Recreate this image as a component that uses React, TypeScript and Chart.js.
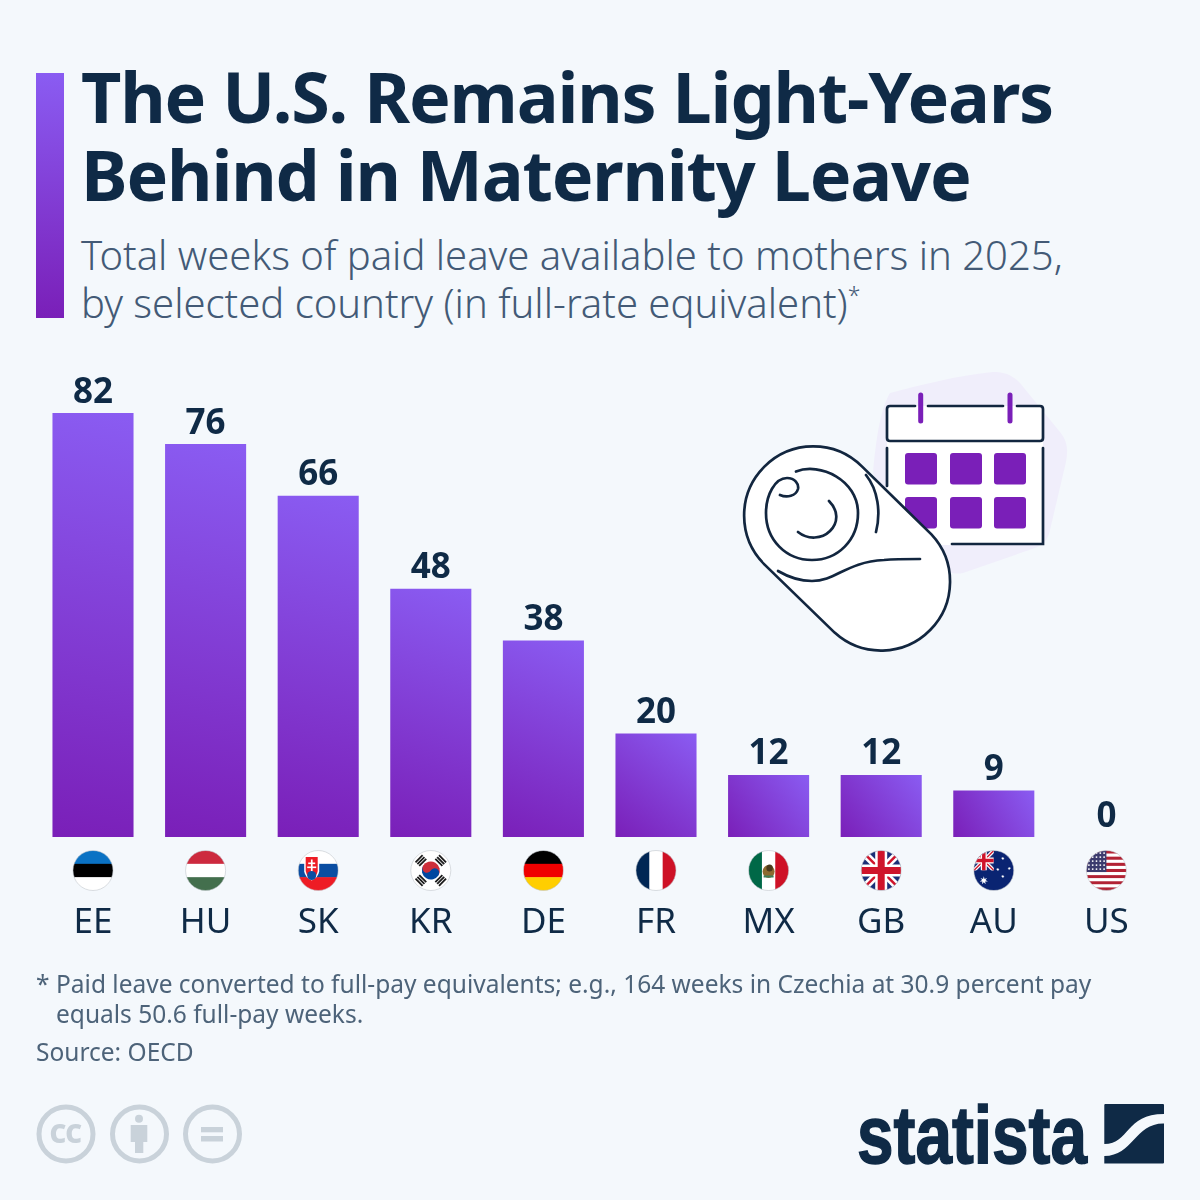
import React, { useEffect, useRef } from 'react';
import { Chart, registerables } from 'chart.js';

Chart.register(...registerables);

const countries = ['EE', 'HU', 'SK', 'KR', 'DE', 'FR', 'MX', 'GB', 'AU', 'US'];
const weeks = [82, 76, 66, 48, 38, 20, 12, 12, 9, 0];

const titleLines = ['The U.S. Remains Light-Years', 'Behind in Maternity Leave'];
const subtitleLines = ['Total weeks of paid leave available to mothers in 2025,', 'by selected country (in full-rate equivalent)'];
const noteLines = ['Paid leave converted to full-pay equivalents; e.g., 164 weeks in Czechia at 30.9 percent pay', 'equals 50.6 full-pay weeks.'];
const sourceText = 'Source: OECD';

const NAVY = '#0f2a46';
const FONT = '"Noto Sans", "Open Sans", sans-serif';
const PURPLE_TOP = '#8a5cf2';
const PURPLE_BOTTOM = '#7a1fb8';
const FLAG_R = 20;
const FLAG_Y = 870.5;

type Ctx = CanvasRenderingContext2D;

function bands(c: Ctx, x: number, y: number, cols: string[], vertical = false) {
  const r = FLAG_R;
  const n = cols.length;
  cols.forEach((col, i) => {
    c.fillStyle = col;
    if (vertical) c.fillRect(x - r + (i * 2 * r) / n, y - r, (2 * r) / n + 0.5, 2 * r);
    else c.fillRect(x - r, y - r + (i * 2 * r) / n, 2 * r, (2 * r) / n + 0.5);
  });
}

function star(c: Ctx, x: number, y: number, r: number, pts = 5) {
  c.beginPath();
  for (let i = 0; i < pts * 2; i++) {
    const a = (Math.PI * i) / pts - Math.PI / 2;
    const rad = i % 2 === 0 ? r : r * 0.42;
    c.lineTo(x + Math.cos(a) * rad, y + Math.sin(a) * rad);
  }
  c.closePath();
  c.fill();
}

// union jack inside the box x0,y0 w,h
function jack(c: Ctx, x0: number, y0: number, w: number, h: number, k: number) {
  c.save();
  c.beginPath();
  c.rect(x0, y0, w, h);
  c.clip();
  c.fillStyle = '#1b2f77';
  c.fillRect(x0, y0, w, h);
  const line = (col: string, lw: number, a: number[]) => {
    c.strokeStyle = col;
    c.lineWidth = lw;
    c.beginPath();
    c.moveTo(a[0], a[1]);
    c.lineTo(a[2], a[3]);
    c.stroke();
  };
  const diag1 = [x0, y0, x0 + w, y0 + h];
  const diag2 = [x0 + w, y0, x0, y0 + h];
  line('#fff', 7.5 * k, diag1);
  line('#fff', 7.5 * k, diag2);
  line('#cf142b', 2.5 * k, diag1);
  line('#cf142b', 2.5 * k, diag2);
  const mx = x0 + w / 2;
  const my = y0 + h / 2;
  line('#fff', 12 * k, [mx, y0, mx, y0 + h]);
  line('#fff', 12 * k, [x0, my, x0 + w, my]);
  line('#cf142b', 7 * k, [mx, y0, mx, y0 + h]);
  line('#cf142b', 7 * k, [x0, my, x0 + w, my]);
  c.restore();
}

const flags: Record<string, (c: Ctx, x: number, y: number) => void> = {
  EE: (c, x, y) => bands(c, x, y, ['#0a72c4', '#000000', '#ffffff']),
  HU: (c, x, y) => bands(c, x, y, ['#cd2a3e', '#ffffff', '#436f4d']),
  SK: (c, x, y) => {
    bands(c, x, y, ['#ffffff', '#0b4ea2', '#ee1c25']);
    c.fillStyle = '#fff';
    c.beginPath();
    c.moveTo(x - 14, y - 15);
    c.lineTo(x + 1, y - 15);
    c.lineTo(x + 1, y + 1);
    c.quadraticCurveTo(x, y + 7, x - 6.5, y + 10);
    c.quadraticCurveTo(x - 13, y + 7, x - 14, y + 1);
    c.closePath();
    c.fill();
    c.fillStyle = '#ee1c25';
    c.beginPath();
    c.moveTo(x - 12.5, y - 13.5);
    c.lineTo(x - 0.5, y - 13.5);
    c.lineTo(x - 0.5, y + 0.5);
    c.quadraticCurveTo(x - 1.5, y + 6, x - 6.5, y + 8.5);
    c.quadraticCurveTo(x - 11.5, y + 6, x - 12.5, y + 0.5);
    c.closePath();
    c.fill();
    c.fillStyle = '#fff';
    c.fillRect(x - 7.3, y - 11, 1.7, 13);
    c.fillRect(x - 10, y - 8, 7, 1.6);
    c.fillRect(x - 11, y - 4, 9, 1.6);
    c.fillStyle = '#0b4ea2';
    c.beginPath();
    c.arc(x - 6.5, y + 5, 4.5, 0, Math.PI * 2);
    c.fill();
  },
  KR: (c, x, y) => {
    c.fillStyle = '#fff';
    c.fillRect(x - FLAG_R, y - FLAG_R, 40, 40);
    c.save();
    c.translate(x, y);
    c.rotate(Math.PI / 6);
    c.fillStyle = '#cd2e3a';
    c.beginPath();
    c.arc(0, 0, 9, Math.PI, 0);
    c.fill();
    c.fillStyle = '#0047a0';
    c.beginPath();
    c.arc(0, 0, 9, 0, Math.PI);
    c.fill();
    c.fillStyle = '#cd2e3a';
    c.beginPath();
    c.arc(-4.5, 0, 4.5, 0, Math.PI * 2);
    c.fill();
    c.fillStyle = '#0047a0';
    c.beginPath();
    c.arc(4.5, 0, 4.5, 0, Math.PI * 2);
    c.fill();
    c.restore();
    c.fillStyle = '#1c1c1c';
    [45, 135, 225, 315].forEach((deg) => {
      c.save();
      c.translate(x, y);
      c.rotate((deg * Math.PI) / 180);
      for (let i = 0; i < 3; i++) c.fillRect(-5, -17.5 + i * 2.6, 10, 1.8);
      c.restore();
    });
  },
  DE: (c, x, y) => bands(c, x, y, ['#000000', '#f00000', '#ffce00']),
  FR: (c, x, y) => bands(c, x, y, ['#002654', '#ffffff', '#ce1126'], true),
  MX: (c, x, y) => {
    bands(c, x, y, ['#006847', '#ffffff', '#ce1126'], true);
    c.fillStyle = '#8c6a2f';
    c.beginPath();
    c.ellipse(x, y + 1, 6, 6.5, 0, 0, Math.PI * 2);
    c.fill();
    c.fillStyle = '#4b3a1c';
    c.beginPath();
    c.ellipse(x + 1, y - 2.5, 3.2, 3.5, 0, 0, Math.PI * 2);
    c.fill();
    c.fillStyle = '#3d7d57';
    c.fillRect(x - 5, y + 5, 10, 2);
  },
  GB: (c, x, y) => jack(c, x - FLAG_R, y - FLAG_R, 40, 40, 1),
  AU: (c, x, y) => {
    c.fillStyle = '#0a2472';
    c.fillRect(x - FLAG_R, y - FLAG_R, 40, 40);
    jack(c, x - FLAG_R, y - FLAG_R, 20, 20, 0.5);
    c.fillStyle = '#fff';
    star(c, x - 10, y + 10, 4.2, 7);
    star(c, x + 9, y - 12, 1.8, 7);
    star(c, x + 15.5, y - 2, 1.8, 7);
    star(c, x + 4, y - 1, 1.8, 7);
    star(c, x + 9, y + 6, 1.8, 7);
  },
  US: (c, x, y) => {
    const r = FLAG_R;
    const h = 40 / 13;
    for (let i = 0; i < 13; i++) {
      c.fillStyle = i % 2 === 0 ? '#b22234' : '#ffffff';
      c.fillRect(x - r, y - r + i * h, 40, h + 0.3);
    }
    c.fillStyle = '#3c3b6e';
    c.fillRect(x - r, y - r, 20, 7 * h);
    c.fillStyle = '#fff';
    for (let row = 0; row < 5; row++) {
      for (let col = 0; col < 5; col++) {
        c.beginPath();
        c.arc(x - r + 2.5 + col * 3.8, y - r + 2.6 + row * 4, 0.95, 0, Math.PI * 2);
        c.fill();
      }
    }
  },
};

// flags under the axis and the value labels above the bars
const barDecorations = {
  id: 'barDecorations',
  afterDatasetsDraw(chart: Chart) {
    const c = chart.ctx;
    const meta = chart.getDatasetMeta(0);
    c.save();
    c.font = `700 35px ${FONT}`;
    c.fillStyle = NAVY;
    c.textAlign = 'center';
    c.textBaseline = 'alphabetic';
    meta.data.forEach((bar: any, i: number) => {
      c.fillText(String(weeks[i]), bar.x, bar.y - 10.5);
    });
    countries.forEach((code, i) => {
      const x = chart.scales.x.getPixelForValue(i);
      c.save();
      c.beginPath();
      c.arc(x, FLAG_Y, FLAG_R, 0, Math.PI * 2);
      c.clip();
      flags[code](c, x, FLAG_Y);
      c.restore();
      c.strokeStyle = 'rgba(190,195,200,0.55)';
      c.lineWidth = 1;
      c.beginPath();
      c.arc(x, FLAG_Y, FLAG_R, 0, Math.PI * 2);
      c.stroke();
    });
    c.restore();
  },
};

function barGradient(ctx: any) {
  const chart = ctx.chart;
  const i = ctx.dataIndex;
  if (i === undefined || !chart.scales.x || !chart.scales.y) return PURPLE_BOTTOM;
  const x = chart.scales.x.getPixelForValue(i);
  const top = chart.scales.y.getPixelForValue(weeks[i]);
  const bottom = chart.scales.y.getPixelForValue(0);
  if (![x, top, bottom].every(Number.isFinite)) return PURPLE_BOTTOM;
  // corner to corner, so short bars read as a sideways fade
  const g = chart.ctx.createLinearGradient(x - 40.5, bottom, x + 40.5, top);
  g.addColorStop(0, PURPLE_BOTTOM);
  g.addColorStop(1, PURPLE_TOP);
  return g;
}

function Illustration() {
  const stroke = { stroke: '#12263f', strokeWidth: 2.7, fill: 'none', strokeLinecap: 'round' as const };
  const cols = [905, 950, 994];
  const rows = [453, 497];
  return (
    <svg width={1200} height={1200} style={{ position: 'absolute', left: 0, top: 0 }}>
      <path d="M873,473 C876,440 880,410 890,393 C920,385 960,375 993,372 C1005,372 1012,375 1020,383 L1060,432 C1068,442 1068,450 1066,462 L1050,530 C1048,540 1043,545 1035,548 L963,573 C930,580 890,520 873,473 Z" fill="#f0eefb" />
      <rect x={887} y={441} width={156} height={104} fill="#fff" />
      <rect x={887} y={406} width={156} height={35} rx={3} fill="#fff" />
      <path {...stroke} d="M915,406 H890 Q887,406 887,409 V438 Q887,441 890,441 H1040 Q1043,441 1043,438 V409 Q1043,406 1040,406 H1017 M928,406 H1003" />
      <path {...stroke} d="M887,448 V486 M1043,448 V544 H952" />
      <path d="M920.7,395 V421 M1010,395 V421" stroke={PURPLE_BOTTOM} strokeWidth={5} strokeLinecap="round" />
      {rows.map((y) => cols.map((x) => <rect key={`${x}-${y}`} x={x} y={y} width={32} height={31.5} rx={3} fill={PURPLE_BOTTOM} />))}
      <path d="M861.9,466.4 L931.4,534.4 A69,69 0 0 1 834.6,632.6 L764.6,564.6 A69,69 0 0 1 861.9,466.4 Z" fill="#fff" stroke="#12263f" strokeWidth={2.7} />
      <path {...stroke} d="M796,471.5 C820,462 858,480 858,513 C858,540 838,560 812,560 C786,560 766,540 766,513 C766,495 775,478 787,478 C795,478 799,484 798,489 C796,496 787,498 780,495" />
      <path {...stroke} d="M829,501 C838,510 839,522 830,531 C822,539 808,540 798,532" />
      <path {...stroke} d="M866,475 C878,490 881,512 876,532" />
      <path {...stroke} d="M778,571 C790,578 800,581 812,581 C836,581 846,562 884,560 C895,559 908,559 920,559" />
    </svg>
  );
}

function Footer() {
  const grey = '#c9d2da';
  return (
    <svg width={1200} height={1200} style={{ position: 'absolute', left: 0, top: 0, pointerEvents: 'none' }}>
      <g fill="none" stroke={grey} strokeWidth={5}>
        <circle cx={66} cy={1134} r={27} />
        <circle cx={139.5} cy={1134} r={27} />
        <circle cx={212.5} cy={1134} r={27} />
      </g>
      <text x={65.5} y={1143} textAnchor="middle" fontFamily={FONT} fontWeight={900} fontSize={26} fill={grey} letterSpacing={-0.5}>CC</text>
      <circle cx={139} cy={1118.7} r={4} fill={grey} />
      <rect x={130.7} y={1125} width={16.6} height={17} fill={grey} />
      <rect x={135} y={1140} width={8.3} height={13} fill={grey} />
      <rect x={201} y={1127} width={22} height={5.3} fill={grey} />
      <rect x={201} y={1136} width={22} height={5.5} fill={grey} />
      <text x={857} y={1162.5} fontFamily='"Liberation Sans Narrow", "Liberation Sans", sans-serif' fontWeight={700} fontSize={82} fill={NAVY} stroke={NAVY} strokeWidth={1.5} textLength={230} lengthAdjust="spacingAndGlyphs">statista</text>
      <path d="M1104.3,1105 Q1104.3,1104 1105.3,1104 H1163 Q1164,1104 1164,1105 V1114 C1125,1114 1130,1144 1104.3,1144 Z" fill={NAVY} />
      <path d="M1164,1123.5 C1135,1123 1133,1156 1104.3,1156 V1163.5 H1163 Q1164,1163.5 1164,1162.5 Z" fill={NAVY} />
    </svg>
  );
}

export default function App() {
  const canvasRef = useRef<HTMLCanvasElement>(null);

  useEffect(() => {
    document.body.style.margin = '0';
    document.body.style.background = '#f4f8fc';
    const chart = new Chart(canvasRef.current!, {
      type: 'bar',
      data: {
        labels: countries,
        datasets: [{ data: weeks, backgroundColor: barGradient, categoryPercentage: 1, barPercentage: 0.72, borderWidth: 0 }],
      },
      options: {
        responsive: false,
        animation: false,
        layout: { padding: { left: 36.7, right: 37.3, top: 320, bottom: 263 } },
        plugins: { legend: { display: false }, tooltip: { enabled: false } },
        scales: {
          x: {
            grid: { display: false, drawTicks: false },
            border: { display: false },
            ticks: { padding: 65, color: NAVY, font: { family: FONT, size: 35, weight: 400 }, maxRotation: 0 },
            afterFit: (s: any) => { s.height = 100; },
          },
          y: { display: false, min: 0, max: 100 },
        },
      },
      plugins: [barDecorations],
    });
    return () => chart.destroy();
  }, []);

  return (
    <div style={{ position: 'absolute', left: 0, top: 0, width: 1200, height: 1200, background: '#f4f8fc', overflow: 'hidden', fontFamily: FONT }}>
      <div style={{ position: 'absolute', left: 36, top: 73, width: 28, height: 245, background: `linear-gradient(${PURPLE_TOP}, ${PURPLE_BOTTOM})` }} />
      <div style={{ position: 'absolute', left: 81, top: 56.5, fontSize: 70, lineHeight: '78px', fontWeight: 700, letterSpacing: -1.15, color: NAVY, whiteSpace: 'nowrap' }}>
        {titleLines[0]}<br />{titleLines[1]}
      </div>
      <div style={{ position: 'absolute', left: 81, top: 230.5, fontSize: 40, lineHeight: '48px', fontWeight: 300, color: '#435a76', whiteSpace: 'nowrap' }}>
        {subtitleLines[0]}<br />{subtitleLines[1]}<sup style={{ fontSize: 23, lineHeight: 0 }}>*</sup>
      </div>
      <Illustration />
      <canvas ref={canvasRef} width={1200} height={1200} style={{ position: 'absolute', left: 0, top: 0, display: 'block' }} />
      <div style={{ position: 'absolute', left: 36, top: 969, fontSize: 24.5, lineHeight: '30px', color: '#4d6379', whiteSpace: 'nowrap' }}>
        <span style={{ display: 'inline-block', width: 20 }}>*</span>{noteLines[0]}<br />
        <span style={{ display: 'inline-block', width: 20 }} />{noteLines[1]}
      </div>
      <div style={{ position: 'absolute', left: 36, top: 1037, fontSize: 24.5, lineHeight: '30px', color: '#4d6379', whiteSpace: 'nowrap' }}>{sourceText}</div>
      <Footer />
    </div>
  );
}
